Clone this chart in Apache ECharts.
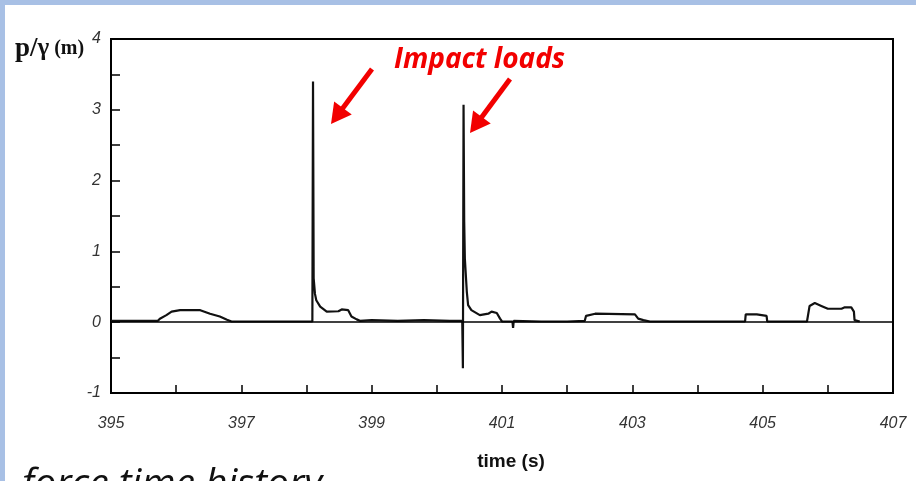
<!DOCTYPE html>
<html>
<head>
<meta charset="utf-8">
<script src="https://cdn.jsdelivr.net/npm/echarts@6/dist/echarts.min.js"></script>
<style>
html,body{margin:0;padding:0;background:#fff;}
#chart{width:916px;height:481px;}
</style>
</head>
<body>
<div id="chart"></div>
<script>
// time (s)
const times = [395.00,395.72,395.75,395.85,395.93,396.06,396.37,396.52,396.67,396.78,396.85,397.50,398.09,
  398.10,398.11,398.13,398.15,398.21,398.31,398.49,398.54,398.64,398.69,398.77,398.82,399.00,399.40,399.80,400.20,
  400.39,400.40,400.41,400.42,400.43,400.46,400.48,400.53,400.66,400.79,400.84,400.92,400.97,401.00,401.16,401.17,
  401.18,401.60,402.00,402.27,402.29,402.43,403.04,403.09,403.17,403.27,404.00,404.73,404.74,404.91,404.93,405.06,
  405.07,405.68,405.72,405.80,405.90,406.00,406.21,406.26,406.36,406.40,406.41,406.49];
// p/gamma (m)
const values = [0.02,0.02,0.05,0.10,0.15,0.17,0.17,0.12,0.08,0.035,0.01,0.01,0.01,
  3.40,0.62,0.40,0.31,0.22,0.15,0.155,0.18,0.17,0.08,0.04,0.02,0.03,0.02,0.03,0.02,
  0.02,-0.65,3.07,1.42,0.90,0.43,0.24,0.17,0.10,0.12,0.15,0.13,0.05,0.01,0.01,-0.08,
  0.02,0.01,0.01,0.02,0.09,0.12,0.11,0.05,0.03,0.01,0.01,0.01,0.11,0.11,0.09,0.09,
  0.01,0.01,0.23,0.27,0.23,0.19,0.19,0.21,0.21,0.15,0.03,0.01];
const xLabels = [395,397,399,401,403,405,407];
const yLabels = [-1,0,1,2,3,4];

const tickFont = '"Liberation Sans Narrow","Arial Narrow","Liberation Sans",sans-serif';
const chart = echarts.init(document.getElementById('chart'));
const data = times.map((t,i)=>[t, values[i]]);

function arrow(tail, tip, hl, hw, sw){
  const dx = tip[0]-tail[0], dy = tip[1]-tail[1];
  const L = Math.hypot(dx,dy), ux = dx/L, uy = dy/L, nx = -uy, ny = ux;
  const bx = tip[0]-ux*hl, by = tip[1]-uy*hl;
  return [
    {type:'line', shape:{x1:tail[0],y1:tail[1],x2:bx+ux*2,y2:by+uy*2}, style:{stroke:'#f20000',lineWidth:sw}},
    {type:'polygon', shape:{points:[[tip[0],tip[1]],[bx+nx*hw,by+ny*hw],[bx-nx*hw,by-ny*hw]]}, style:{fill:'#f20000'}}
  ];
}

chart.setOption({
  backgroundColor:'#fff',
  animation:false,
  grid:{left:111, top:39, width:782, height:354, show:true, borderColor:'#000', borderWidth:2},
  xAxis:{
    type:'value', min:395, max:407, interval:1,
    axisLine:{onZero:false, lineStyle:{color:'#000',width:2}},
    axisTick:{inside:true,length:8,lineStyle:{color:'#000',width:1.5}},
    splitLine:{show:false},
    axisLabel:{margin:23, color:'#333', fontStyle:'italic', fontSize:16, fontFamily:tickFont,
      formatter:v=> xLabels.indexOf(Math.round(v))>=0 && Math.abs(v-Math.round(v))<1e-6 ? String(Math.round(v)) : ''}
  },
  yAxis:{
    type:'value', min:-1, max:4, interval:0.5,
    axisLine:{show:true,onZero:false,lineStyle:{color:'#000',width:2}},
    axisTick:{inside:true,length:9,lineStyle:{color:'#000',width:1.5}},
    splitLine:{show:false},
    axisLabel:{margin:10, color:'#333', fontStyle:'italic', fontSize:16, fontFamily:tickFont,
      formatter:v=> yLabels.indexOf(v)>=0 ? String(v) : ''}
  },
  series:[{
    type:'line', data:data, showSymbol:false, symbol:'none',
    lineStyle:{color:'#111',width:2.2}, z:3,
    markLine:{silent:true, symbol:'none', label:{show:false},
      lineStyle:{color:'#000',width:1.5,type:'solid'}, data:[{yAxis:0}]}
  }],
  graphic:[
    {type:'rect', shape:{x:0,y:0,width:916,height:5}, style:{fill:'#a8c0e5'}},
    {type:'rect', shape:{x:0,y:0,width:5,height:481}, style:{fill:'#a8c0e5'}},
    {type:'text', x:15, y:49, style:{
      text:'{p|p/}{g|γ}{m| (m)}', verticalAlign:'middle',
      rich:{p:{fontFamily:'"Liberation Serif","DejaVu Serif",serif',fontWeight:'bold',fontSize:27,fill:'#111'},
            g:{fontFamily:'"Liberation Serif","DejaVu Serif",serif',fontWeight:'bold',fontSize:25,fill:'#111'},
            m:{fontFamily:'"Liberation Serif","DejaVu Serif",serif',fontWeight:'bold',fontSize:20,fill:'#111'}}}},
    {type:'text', x:511, y:462, style:{text:'time (s)', align:'center', verticalAlign:'middle',
      fontFamily:'"Liberation Sans",Arial,sans-serif', fontWeight:'bold', fontSize:19, fill:'#111'}},
    {type:'text', x:394, y:46, style:{text:'Impact loads', align:'left', verticalAlign:'top',
      fontFamily:'"Open Sans",sans-serif', fontWeight:'bold', fontStyle:'italic', fontSize:28, fill:'#f20000'}},
    ...arrow([372,69],[331,124],20,11,5),
    ...arrow([510,79],[470,133],20,11,5),
    {type:'text', x:22, y:465, style:{text:'force time history', align:'left', verticalAlign:'top',
      fontFamily:'"Open Sans",sans-serif', fontStyle:'italic', fontSize:39, fill:'#111'}}
  ]
});
</script>
</body>
</html>
